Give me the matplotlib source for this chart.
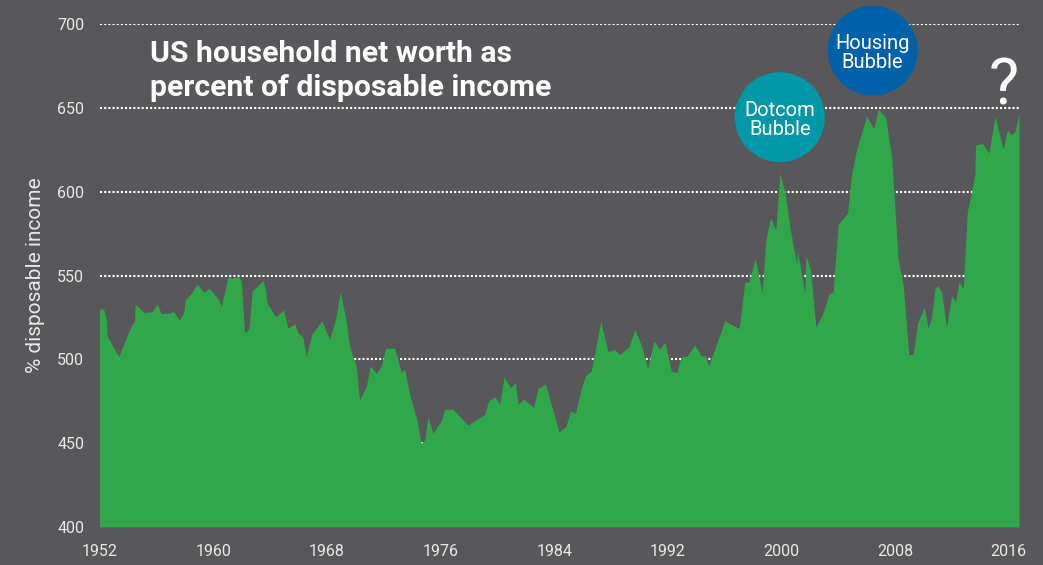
import matplotlib
matplotlib.use("Agg")
import matplotlib.pyplot as plt
import numpy as np

# ---- data ----
years = [1952.0, 1952.3, 1952.47, 1952.54, 1953.34, 1954.16, 1954.46, 1954.51, 1955.17, 1955.68,
         1956.06, 1956.34, 1956.81, 1957.21, 1957.61, 1957.94, 1958.03, 1958.46, 1958.87, 1959.35,
         1959.75, 1960.38, 1960.57, 1961.04, 1961.39, 1961.74, 1961.97, 1962.21, 1962.51, 1962.75,
         1963.5, 1963.69, 1963.78, 1964.39, 1964.96, 1965.26, 1965.73, 1965.97, 1966.32, 1966.55,
         1966.95, 1967.65, 1968.2, 1968.62, 1968.94, 1969.32, 1969.6, 1970.07, 1970.31, 1970.77,
         1971.06, 1971.48, 1971.83, 1972.14, 1972.77, 1973.24, 1973.47, 1973.87, 1974.34, 1974.65,
         1974.89, 1975.12, 1975.47, 1976.06, 1976.3, 1976.88, 1977.93, 1979.11, 1979.39, 1979.82,
         1980.17, 1980.47, 1980.94, 1981.27, 1981.46, 1981.86, 1982.56, 1982.86, 1983.39, 1984.34,
         1984.82, 1985.15, 1985.5, 1985.92, 1986.2, 1986.62, 1987.28, 1987.79, 1988.22, 1988.62,
         1989.25, 1989.68, 1990.19, 1990.58, 1991.02, 1991.42, 1991.8, 1992.25, 1992.65, 1992.92,
         1993.36, 1993.9, 1994.35, 1994.65, 1994.88, 1996.01, 1997.02, 1997.42, 1997.72, 1998.15,
         1998.64, 1998.9, 1999.23, 1999.6, 1999.89, 2000.24, 2000.59, 2001.06, 2001.13, 2001.65,
         2001.72, 2002.05, 2002.42, 2002.89, 2003.36, 2003.64, 2003.99, 2004.65, 2004.93, 2005.28,
         2005.99, 2006.5, 2006.81, 2007.33, 2007.75, 2008.22, 2008.57, 2008.97, 2009.28, 2009.58,
         2010.05, 2010.33, 2010.57, 2010.8, 2010.99, 2011.27, 2011.62, 2011.97, 2012.26, 2012.49,
         2012.79, 2013.08, 2013.38, 2013.62, 2013.66, 2014.15, 2014.6, 2015.03, 2015.61, 2015.85,
         2016.01, 2016.13, 2016.43, 2016.72]
net_worth_pct = [530, 530, 523.5, 514, 501.6, 518.5, 523, 532.8, 527.8, 528.4,
                 532.8, 527.4, 527.4, 528.4, 523.5, 528, 535.4, 539.4, 544.9, 540,
                 542.3, 535.8, 531.4, 549.3, 548.3, 549.7, 547.3, 515.9, 518.1, 540.8,
                 546.9, 541.4, 534, 525.4, 529.4, 518.5, 521.1, 515.9, 512.9, 501.6,
                 515.1, 522.9, 511.9, 523.9, 540, 525, 507.9, 495.6, 475.8, 483.7,
                 496, 491.7, 496, 506.6, 506.6, 492.1, 494.1, 477.7, 463.8, 449.9,
                 451.9, 465.8, 455.9, 463.4, 470.2, 470.2, 460.8, 467.2, 475.3, 477.7,
                 473.2, 489.3, 483.1, 486.1, 473.4, 476.2, 471.4, 482.7, 485.3, 456.8,
                 459.8, 469.2, 467.8, 482.7, 490.1, 493.1, 522.5, 504.6, 506, 503,
                 507.2, 517.9, 507.2, 494, 511, 506, 510, 493, 492.1, 501.1,
                 502, 508.6, 502, 502, 496, 523, 518.4, 545.9, 546, 560.3,
                 540, 571.2, 584.5, 577.1, 611, 600, 579.1, 557.3, 564.6, 539,
                 561.8, 553.3, 519.1, 527, 539, 540.3, 580.6, 587.1, 610, 624.9,
                 645.1, 637.4, 649.3, 644.3, 620.9, 559.3, 544.3, 502.6, 503.2, 521.5,
                 531, 518.5, 525, 541.9, 543.9, 540.3, 519.1, 537.8, 534.4, 546.3,
                 541.9, 588.1, 600, 611, 627.8, 628.8, 622.9, 644.7, 625.3, 635.4,
                 636.4, 633.8, 635.8, 646.3]
x_ticks = [1952, 1960, 1968, 1976, 1984, 1992, 2000, 2008, 2016]
y_ticks = [400, 450, 500, 550, 600, 650, 700]
bubble_labels = ["Dotcom\nBubble", "Housing\nBubble"]
bubble_years = [1999.89, 2006.42]
bubble_values = [644.4, 684.1]
bubble_colors = ["#0097a6", "#0061a9"]

BG = "#58585a"
GREEN = "#30a74b"
TXT = "#e8e8e8"

plt.rcParams['font.family'] = ['Roboto', 'DejaVu Sans']

fig = plt.figure(figsize=(10.43, 5.65), dpi=100, facecolor=BG)
ax = fig.add_axes([99.5 / 1043, 1 - 527 / 565, (1019 - 99.5) / 1043, (527 - 24) / 565])
ax.set_facecolor(BG)

ax.fill_between(years, 400, net_worth_pct, color=GREEN, linewidth=0, zorder=2)

ax.set_xlim(1952, 2016.72)
ax.set_ylim(400, 700)
ax.set_xticks(x_ticks)
ax.set_yticks(y_ticks)
ax.tick_params(axis='both', length=0, labelsize=11.5, labelcolor=TXT)
ax.tick_params(axis='y', pad=11)
ax.tick_params(axis='x', pad=12.5)
for s in ax.spines.values():
    s.set_visible(False)
ax.yaxis.grid(True, color='white', linestyle=(0, (1, 1)), linewidth=1.5, zorder=1)
ax.set_axisbelow(True)
ax.set_ylabel("% disposable income", fontsize=15, color=TXT, labelpad=8.5)

# title inside plot
ax.text(0.055, 0.925, "US household net worth as", transform=ax.transAxes,
        fontsize=21.7, fontweight='bold', color='white', ha='left', va='baseline')
ax.text(0.055, 0.857, "percent of disposable income", transform=ax.transAxes,
        fontsize=21.7, fontweight='bold', color='white', ha='left', va='baseline')

# bubbles
ax.scatter(bubble_years, bubble_values, s=4200, c=bubble_colors, linewidths=0,
           zorder=4, clip_on=False)
for lab, bx, by in zip(bubble_labels, bubble_years, bubble_values):
    ax.text(bx, by - 1.5, lab, ha='center', va='center', fontsize=14.5, color='white',
            linespacing=1.0, zorder=5, clip_on=False)

ax.text(2015.66, 651.7, "?", ha='center', va='baseline', fontsize=46,
        fontweight='normal', color='white', zorder=5)

fig.savefig("out.png", dpi=100, facecolor=BG)
